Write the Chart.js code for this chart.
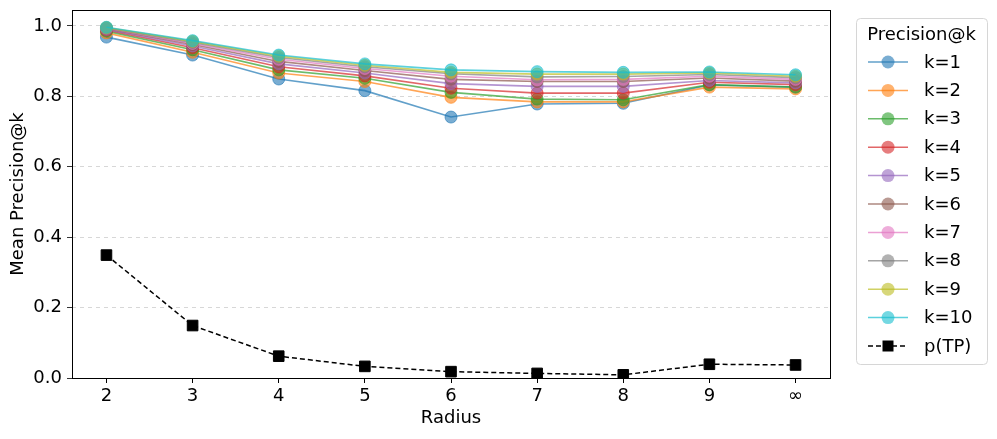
<!DOCTYPE html>
<html>
<head>
<meta charset="utf-8">
<script src="https://cdn.jsdelivr.net/npm/chart.js@4.4.1/dist/chart.umd.min.js"></script>
<style>
  html, body { margin: 0; padding: 0; background: #fff; }
  #wrap { width: 997px; height: 439px; }
</style>
</head>
<body>
<div id="wrap"><canvas id="chart" width="997" height="439"></canvas></div>
<script>
// Radius values along the x axis
const radiusLabels = ['2', '3', '4', '5', '6', '7', '8', '9', '\u221e'];

// Mean Precision@k for each k, one array per radius list
const k1 = [0.968, 0.917, 0.849, 0.816, 0.741, 0.778, 0.780, 0.832, 0.826];
const k2 = [0.980, 0.925, 0.866, 0.842, 0.797, 0.784, 0.784, 0.826, 0.821];
const k3 = [0.985, 0.932, 0.875, 0.851, 0.811, 0.792, 0.790, 0.833, 0.826];
const k4 = [0.988, 0.938, 0.884, 0.858, 0.823, 0.809, 0.809, 0.840, 0.833];
const k5 = [0.990, 0.943, 0.892, 0.866, 0.836, 0.828, 0.828, 0.845, 0.838];
const k6 = [0.992, 0.947, 0.899, 0.873, 0.848, 0.842, 0.842, 0.852, 0.843];
const k7 = [0.993, 0.950, 0.905, 0.879, 0.857, 0.847, 0.848, 0.857, 0.848];
const k8 = [0.994, 0.953, 0.910, 0.884, 0.864, 0.855, 0.856, 0.862, 0.853];
const k9 = [0.995, 0.956, 0.914, 0.888, 0.868, 0.863, 0.863, 0.866, 0.857];
const k10 = [0.996, 0.958, 0.917, 0.892, 0.875, 0.870, 0.868, 0.869, 0.861];

// probability of a true positive
const pTP = [0.349, 0.149, 0.062, 0.033, 0.018, 0.013, 0.009, 0.039, 0.037];

const precisionSeries = [k1, k2, k3, k4, k5, k6, k7, k8, k9, k10];
const tab10 = ['31,119,180', '255,127,14', '44,160,44', '214,39,40', '148,103,189',
               '140,86,75', '227,119,194', '127,127,127', '188,189,34', '23,190,207'];

const FONT = '"DejaVu Sans", sans-serif';

const datasets = precisionSeries.map((vals, i) => ({
    label: 'k=' + (i + 1),
    data: vals.map((v, j) => ({ x: j, y: v })),
    borderColor: 'rgba(' + tab10[i] + ',0.7)',
    backgroundColor: 'rgba(' + tab10[i] + ',0.6)',
    pointBorderColor: 'rgba(' + tab10[i] + ',0.6)',
    borderWidth: 1.6,
    pointRadius: 6,
    pointBorderWidth: 1,
    pointStyle: 'circle',
    order: 20 - i
}));

datasets.push({
    label: 'p(TP)',
    data: pTP.map((v, j) => ({ x: j, y: v })),
    borderColor: '#000',
    backgroundColor: '#000',
    borderWidth: 1.5,
    borderDash: [5, 3],
    pointStyle: 'rect',
    pointRadius: 7.5,
    pointBorderWidth: 1,
    pointBorderColor: '#000',
    order: 0
});

// draws the frame round the plot and the matplotlib-style legend
const framePlugin = {
    id: 'frame',
    afterDatasetsDraw(chart) {
        const { ctx, chartArea: a } = chart;
        ctx.save();
        ctx.strokeStyle = '#000';
        ctx.lineWidth = 1;
        ctx.strokeRect(a.left + 0.5, a.top + 0.5, a.right - a.left, a.bottom - a.top);
        ctx.restore();
    },
    afterDraw(chart) {
        const ctx = chart.ctx;
        const bx = 856, by = 18, bw = 131, bh = 346;
        ctx.save();
        ctx.beginPath();
        ctx.roundRect(bx + 0.5, by + 0.5, bw, bh, 4);
        ctx.fillStyle = 'rgba(255,255,255,0.8)';
        ctx.fill();
        ctx.strokeStyle = '#d6d6d6';
        ctx.lineWidth = 1;
        ctx.stroke();

        ctx.fillStyle = '#000';
        ctx.font = '18px ' + FONT;
        ctx.textAlign = 'center';
        ctx.textBaseline = 'middle';
        ctx.fillText('Precision@k', bx + bw / 2, 35);

        ctx.textAlign = 'left';
        chart.data.datasets.forEach((ds, i) => {
            const y = 62 + i * 28.4;
            ctx.strokeStyle = ds.borderColor;
            ctx.lineWidth = 1.5;
            ctx.setLineDash(ds.borderDash || []);
            ctx.beginPath();
            ctx.moveTo(868, y);
            ctx.lineTo(908, y);
            ctx.stroke();
            ctx.setLineDash([]);
            ctx.fillStyle = ds.backgroundColor;
            ctx.beginPath();
            if (ds.pointStyle === 'rect') {
                ctx.rect(882.5, y - 5.5, 11, 11);
            } else {
                ctx.arc(888, y, 6.5, 0, Math.PI * 2);
            }
            ctx.fill();
            ctx.fillStyle = '#000';
            ctx.fillText(ds.label, 924, y + 1);
        });
        ctx.restore();
    }
};

new Chart(document.getElementById('chart'), {
    type: 'line',
    data: { datasets: datasets },
    plugins: [framePlugin],
    options: {
        responsive: false,
        animation: false,
        layout: { padding: { top: 10, right: 167, left: 8, bottom: 10 } },
        plugins: {
            legend: { display: false },
            tooltip: { enabled: false }
        },
        scales: {
            x: {
                type: 'linear',
                min: -0.4,
                max: 8.4,
                afterFit(scale) { scale.height = 51; },
                afterBuildTicks(scale) {
                    scale.ticks = radiusLabels.map((_, i) => ({ value: i }));
                },
                ticks: {
                    color: '#000',
                    font: { family: FONT, size: 18 },
                    padding: 3,
                    maxRotation: 0,
                    callback: (v) => radiusLabels[v]
                },
                grid: { display: true, drawOnChartArea: false, color: '#000', tickLength: 5 },
                border: { display: false },
                title: {
                    display: true,
                    text: 'Radius',
                    color: '#000',
                    font: { family: FONT, size: 18 },
                    padding: { top: 0, bottom: 0 }
                }
            },
            y: {
                min: 0,
                max: 1.045,
                afterFit(scale) {
                    scale.width = 64;
                    scale.paddingTop = 0;
                    scale.paddingBottom = 0;
                },
                afterBuildTicks(scale) {
                    scale.ticks = [0, 0.2, 0.4, 0.6, 0.8, 1.0].map(v => ({ value: v }));
                },
                ticks: {
                    color: '#000',
                    font: { family: FONT, size: 18 },
                    padding: 5,
                    callback: (v) => v.toFixed(1)
                },
                grid: {
                    color: 'rgba(0,0,0,0.2)',
                    tickColor: '#000',
                    tickBorderDash: [],
                    tickLength: 5,
                    lineWidth: 0.8
                },
                border: { display: false, dash: [4, 4] },
                title: {
                    display: true,
                    text: 'Mean Precision@k',
                    color: '#000',
                    font: { family: FONT, size: 18 },
                    padding: { top: 0, bottom: 4 }
                }
            }
        }
    }
});
</script>
</body>
</html>
